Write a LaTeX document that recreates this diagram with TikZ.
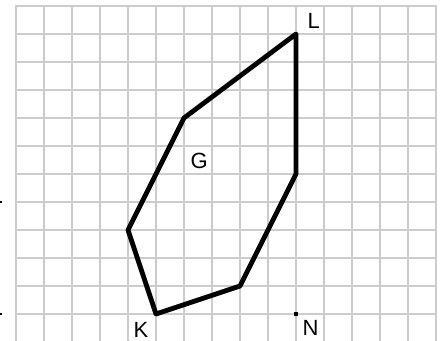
\documentclass[tikz,border=0pt]{standalone}
\usepackage{fontspec}
\setmainfont{Liberation Sans}
\begin{document}
\begin{tikzpicture}[x=21pt, y=-21pt,
	grid line/.style={draw=black!20, line width=1.5pt},
	side line/.style={line width=3.6pt, line join=round},
	point mark/.style={fill, minimum size=3.2pt, inner sep=0pt},
	point label/.style={font=\fontsize{16.5}{16.5}\selectfont, inner sep=0pt}]
	\useasboundingbox[fill=white] (-0.5714, -0.2143) rectangle (15.3214, 11.9643);
	% Grid:
	\foreach \c in {0,...,15} \draw[grid line] (\c, 0) -- (\c, 11.9643);
	\foreach \r in {0,...,11} \draw[grid line, line cap=rect] (0, \r) -- (15, \r);
	% Tick marks at the left edge:
	\draw[line width=0.8pt] (-0.5714, 7) -- (-0.5, 7);
	\draw[line width=0.8pt] (-0.5714, 11) -- (-0.5, 11);
	% Corners of the figure:
	\coordinate (L) at (10, 1);
	\coordinate (R) at (10, 6);
	\coordinate (B) at (8, 10);
	\coordinate (K) at (5, 11);
	\coordinate (W) at (4, 8);
	\coordinate (G) at (6, 4);
	\draw[side line] (L) -- (R) -- (B) -- (K) -- (W) -- (G) -- cycle;
	\node[point mark] (N) at (10, 11) {};
	% Labels:
	\node[point label] (labelL) at (10.63, 0.54) {L};
	\node[point label] (labelG) at (6.54, 5.52) {G};
	\node[point label] (labelK) at (4.46, 11.57) {K};
	\node[point label] (labelN) at (10.52, 11.48) {N};
\end{tikzpicture}
\end{document}
